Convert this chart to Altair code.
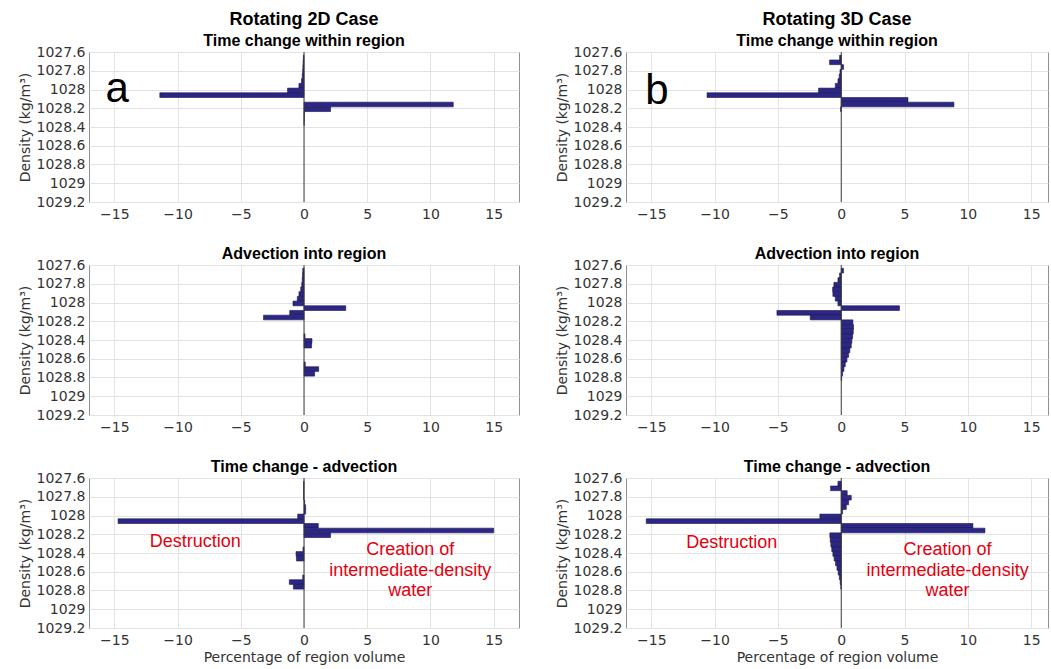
import altair as alt
import pandas as pd

# ---------------- data ----------------
density_centres = [1027.66, 1027.71, 1027.76, 1027.81, 1027.86, 1027.91, 1027.96, 1028.01,
                   1028.06, 1028.11, 1028.16, 1028.21, 1028.26, 1028.31, 1028.36, 1028.41,
                   1028.46, 1028.51, 1028.56, 1028.61, 1028.66, 1028.71, 1028.76, 1028.81,
                   1028.86, 1028.91, 1028.96, 1029.01, 1029.06, 1029.11]
bin_width = 0.05

# Rotating 2D case
tc_2d = [-0.05, -0.07, -0.09, -0.11, -0.14, -0.2, -0.4, -1.3, -11.4, 0.0, 11.8, 2.1, 0.03, 0.02, 0.01,
         0, 0, 0, 0, 0, 0, 0, 0, 0, 0, 0, 0, 0, 0, 0]
adv_2d = [-0.1, -0.12, -0.14, -0.18, -0.26, -0.4, -0.53, -0.87, 3.3, -1.13, -3.2, 0, 0, 0, 0.08,
          0.63, 0.6, 0, 0, 0, 0.1, 1.16, 0.84, 0, 0, 0, 0, 0, 0, 0]
res_2d = [-0.03, -0.03, -0.03, -0.03, 0.05, 0.13, 0.13, -0.5, -14.7, 1.13, 15.0, 2.1, 0, 0, -0.08,
          -0.63, -0.6, 0, 0, 0, -0.1, -1.16, -0.84, 0, 0, 0, 0, 0, 0, 0]

# Rotating 3D case
tc_3d = [-0.13, -0.92, 0.18, -0.1, -0.16, -0.26, -0.47, -1.79, -10.6, 5.27, 8.9, -0.05, 0, 0, 0,
         0, 0, 0, 0, 0, 0, 0, 0, 0, 0, 0, 0, 0, 0, 0]
adv_3d = [0.18, -0.13, -0.26, -0.58, -0.68, -0.66, -0.47, -0.26, 4.6, -5.08, -2.45, 0.92, 0.97, 0.95,
          0.9, 0.84, 0.79, 0.68, 0.58, 0.45, 0.32, 0.21, 0.1, 0.03, 0, 0, 0, 0, 0, 0]
res_3d = [-0.26, -0.84, 0.47, 0.79, 0.58, 0.4, 0.1, -1.69, -15.4, 10.4, 11.35, -0.9, -0.87, -0.82,
          -0.75, -0.66, -0.56, -0.45, -0.34, -0.24, -0.15, -0.08, -0.03, 0, 0, 0, 0, 0, 0, 0]

x_ticks = [-15, -10, -5, 0, 5, 10, 15]
y_ticks = [1027.6, 1027.8, 1028.0, 1028.2, 1028.4, 1028.6, 1028.8, 1029.0, 1029.2]

note_lines = ["Creation of", "intermediate-density", "water"]

# ---------------- style ----------------
BAR_FILL = "#2c2786"
BAR_STROKE = "#1a1548"
RED = "#e3000f"
LABEL_FONT = "DejaVu Sans"
TITLE_FONT = "Liberation Sans"


def panel(values, xdom, width, title, subtitle=None, xtitle=False, letter=None, notes=None):
    df = pd.DataFrame({
        "lo": [c - bin_width / 2 for c in density_centres],
        "hi": [c + bin_width / 2 for c in density_centres],
        "v": values,
        "z": [0] * len(values),
    })
    df = df[df["v"] != 0]
    xs = alt.Scale(domain=xdom, nice=False, zero=False)
    ys = alt.Scale(domain=[1027.6, 1029.2], reverse=True, nice=False, zero=False)

    x_axis = alt.Axis(values=x_ticks, grid=True, labelPadding=5, labelOverlap=False,
                      title="Percentage of region volume" if xtitle else None,
                      titlePadding=3)
    y_axis = alt.Axis(values=y_ticks, grid=True, format=".5~r", labelPadding=4,
                      labelOverlap=False, title="Density (kg/m³)", titlePadding=4)

    bars = alt.Chart(df).mark_bar(fill=BAR_FILL, stroke=BAR_STROKE, strokeWidth=0.6).encode(
        x=alt.X("v:Q", scale=xs, axis=x_axis),
        x2="z:Q",
        y=alt.Y("lo:Q", scale=ys, axis=y_axis),
        y2="hi:Q",
    )
    zero = alt.Chart(pd.DataFrame({"z": [0]})).mark_rule(color="#3c3c3c", strokeWidth=1).encode(
        x=alt.X("z:Q", scale=xs, axis=x_axis)
    )
    layers = [bars, zero]
    if letter is not None:
        ldf = pd.DataFrame({"x": [letter[1]], "y": [letter[2]], "t": [letter[0]]})
        layers.append(
            alt.Chart(ldf).mark_text(font=TITLE_FONT, fontSize=42, align="left",
                                     baseline="alphabetic", color="black").encode(
                x=alt.X("x:Q", scale=xs, axis=x_axis),
                y=alt.Y("y:Q", scale=ys, axis=y_axis), text="t:N")
        )
    if notes is not None:
        ndf = pd.DataFrame(notes, columns=["x", "y", "t"])
        layers.append(
            alt.Chart(ndf).mark_text(font=TITLE_FONT, fontSize=18, align="center",
                                     baseline="middle", color=RED).encode(
                x=alt.X("x:Q", scale=xs, axis=x_axis),
                y=alt.Y("y:Q", scale=ys, axis=y_axis), text="t:N")
        )
    if subtitle is not None:
        t = alt.TitleParams(text=title, subtitle=subtitle, anchor="middle", frame="group",
                            font=TITLE_FONT, fontSize=18, fontWeight="bold", color="black",
                            subtitleFont=TITLE_FONT, subtitleFontSize=16,
                            subtitleFontWeight="bold", subtitleColor="black",
                            subtitlePadding=4, offset=-4)
    else:
        t = alt.TitleParams(text=title, anchor="middle", frame="group",
                            font=TITLE_FONT, fontSize=16, fontWeight="bold", color="black",
                            offset=-4)
    return alt.layer(*layers).properties(width=width, height=150, title=t)


W_LEFT = 430
W_RIGHT = 422
dom_left = [-17, 17]
dom_right = [-17, 16.33]

left_col = alt.vconcat(
    panel(tc_2d, dom_left, W_LEFT, "Rotating 2D Case", "Time change within region",
          letter=("a", -15.7, 1028.135)),
    panel(adv_2d, dom_left, W_LEFT, "Advection into region"),
    panel(res_2d, dom_left, W_LEFT, "Time change - advection", xtitle=True,
          notes=[(-8.6, 1028.28, "Destruction")] +
                [(8.4, yy, s) for yy, s in zip([1028.37, 1028.59, 1028.81], note_lines)]),
    spacing=23,
)
right_col = alt.vconcat(
    panel(tc_3d, dom_right, W_RIGHT, "Rotating 3D Case", "Time change within region",
          letter=("b", -15.47, 1028.15)),
    panel(adv_3d, dom_right, W_RIGHT, "Advection into region"),
    panel(res_3d, dom_right, W_RIGHT, "Time change - advection", xtitle=True,
          notes=[(-8.65, 1028.29, "Destruction")] +
                [(8.4, yy, s) for yy, s in zip([1028.37, 1028.59, 1028.81], note_lines)]),
    spacing=23,
)

chart = alt.hconcat(left_col, right_col, spacing=34).properties(
    padding={"left": 17, "top": 10, "right": 0, "bottom": 0},
    background="white",
).configure_view(
    stroke="#8f8f8f", strokeWidth=1
).configure_axis(
    labelFont=LABEL_FONT, labelFontSize=14, labelColor="#333333",
    titleFont=LABEL_FONT, titleFontSize=14, titleFontWeight="normal", titleColor="#333333",
    gridColor="#e3e3e3", gridWidth=1, domain=False, ticks=False,
)

chart.save("out.html", embed_options={"renderer": "svg", "actions": False})
